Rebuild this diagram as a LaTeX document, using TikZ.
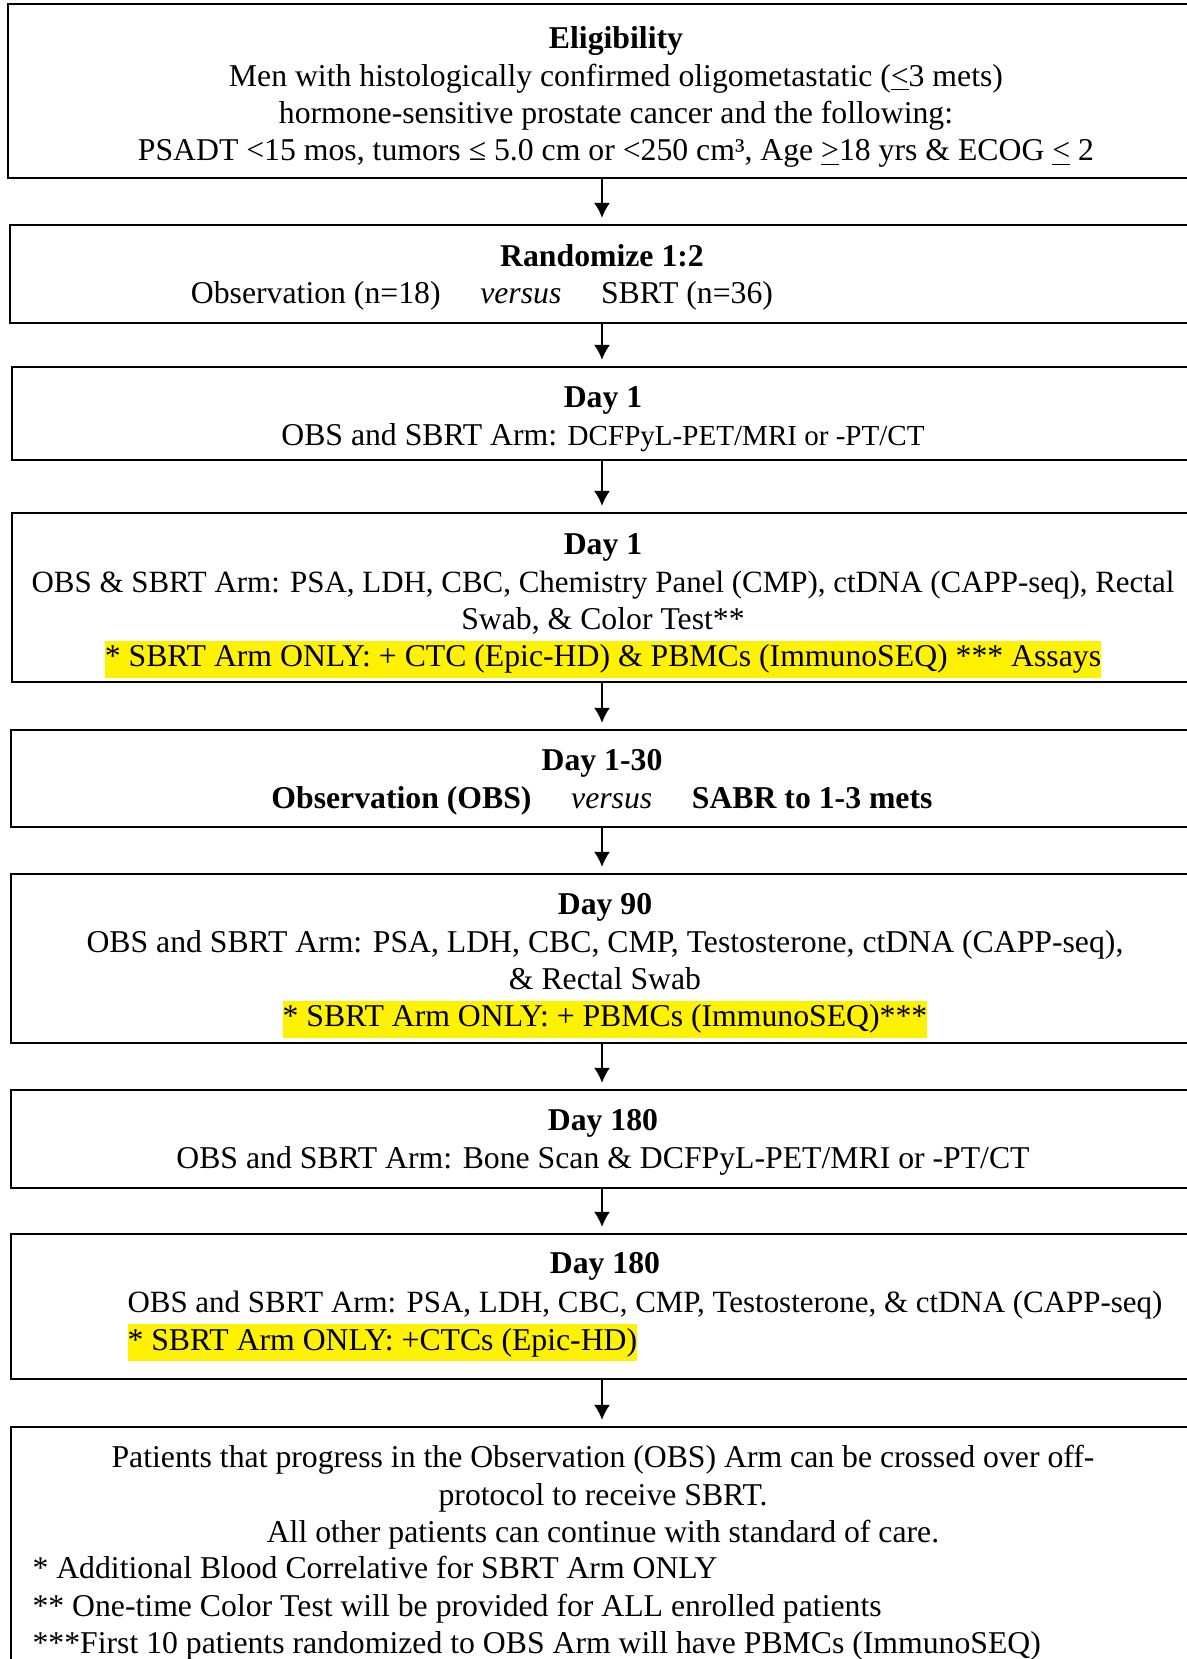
\documentclass[tikz,border=0pt]{standalone}
\usepackage{fontspec}
\setmainfont{Liberation Serif}
\usepackage{xcolor}
\usetikzlibrary{arrows.meta, fit, positioning}
\setlength{\fboxsep}{0pt}
\newcommand{\hl}[1]{\colorbox{yellow}{\strut #1}}
\newcommand{\tight}{\fontsize{11.6}{14}\selectfont}

\begin{document}
\begin{tikzpicture}[x=0.375pt, y=-0.375pt,
    stage/.style={draw, line width=0.8pt, inner sep=0pt},
    txt/.style={align=center, inner sep=0pt, font=\fontsize{11.9}{14}\selectfont},
    notes/.style={align=left, inner sep=0pt, font=\fontsize{11.9}{14}\selectfont},
    flow/.style={-{Latex[length=5.6pt,width=6pt]}, line width=0.6pt, shorten >=2.3pt}]
\useasboundingbox (0,0) rectangle (1187,1659);
\clip (0,0) rectangle (1187,1659);

% boxes, their right side runs off the page
\node[stage, fit={(8,4) (1300,178)}] (elig) {};
\node[stage, fit={(10,225) (1300,323)}] (rand) {};
\node[stage, fit={(12,367) (1300,460)}] (pet1) {};
\node[stage, fit={(12,513) (1300,682)}] (labs1) {};
\node[stage, fit={(11,730) (1300,827)}] (treat) {};
\node[stage, fit={(11,874) (1300,1043)}] (labs90) {};
\node[stage, fit={(11,1090) (1300,1188)}] (pet180) {};
\node[stage, fit={(11,1234) (1300,1379)}] (labs180) {};
\node[stage, fit={(11,1427) (1300,1750)}] (after) {};

% texts
\node[txt, anchor=north] (eligtxt) at (616,22) {\strut\textbf{Eligibility}\\
    Men with histologically confirmed oligometastatic (\underline{<}3 mets)\\
    hormone-sensitive prostate cancer and the following:\\
    PSADT <15 mos, tumors ≤ 5.0 cm or <250 cm³, Age \underline{>}18 yrs \& ECOG \underline{<} 2};
\node[txt, anchor=north] (randtitle) at (602,240) {\strut\textbf{Randomize 1:2}};
\node[txt, anchor=north] (randarms) at (482,277) {\strut Observation (n=18)\quad\ \emph{versus}\quad\ SBRT (n=36)};
\node[txt, anchor=north] (pet1txt) at (603,381) {\strut\textbf{Day 1}\\
    OBS and SBRT Arm: {\fontsize{10.9}{14}\selectfont DCFPyL-PET/MRI or -PT/CT}};
\node[txt, anchor=north] (labs1txt) at (603,528) {\strut\textbf{Day 1}\\
    {\tight OBS \& SBRT Arm: PSA, LDH, CBC, Chemistry Panel (CMP), ctDNA (CAPP-seq), Rectal}\\
    Swab, \& Color Test**\\
    \hl{* SBRT Arm ONLY: + CTC (Epic-HD) \& PBMCs (ImmunoSEQ) *** Assays}};
\node[txt, anchor=north] (treattxt) at (602,744) {\strut\textbf{Day 1-30}\\
    \textbf{Observation (OBS)}\quad\ \emph{versus}\quad\ \textbf{SABR to 1-3 mets}};
\node[txt, anchor=north] (labs90txt) at (605,888) {\strut\textbf{Day 90}\\
    OBS and SBRT Arm: PSA, LDH, CBC, CMP, Testosterone, ctDNA (CAPP-seq),\\
    \& Rectal Swab\\
    \hl{* SBRT Arm ONLY: + PBMCs (ImmunoSEQ)***}};
\node[txt, anchor=north] (pet180txt) at (603,1104) {\strut\textbf{Day 180}\\
    OBS and SBRT Arm: Bone Scan \& DCFPyL-PET/MRI or -PT/CT};
\node[txt, anchor=north] (labs180title) at (605,1247) {\strut\textbf{Day 180}};
\node[notes, anchor=north west] (labs180txt) at (127,1286) {\strut{\tight OBS and SBRT Arm: PSA, LDH, CBC, CMP, Testosterone, \& ctDNA (CAPP-seq)}\\
    \hl{* SBRT Arm ONLY: +CTCs (Epic-HD)}};
\node[txt, anchor=north] (aftertxt) at (603,1441) {\strut Patients that progress in the Observation (OBS) Arm can be crossed over off-\\
    protocol to receive SBRT.\\
    All other patients can continue with standard of care.};
\node[notes, anchor=north west] (footnotes) at (32,1552) {\strut * Additional Blood Correlative for SBRT Arm ONLY\\
    ** One-time Color Test will be provided for ALL enrolled patients\\
    ***First 10 patients randomized to OBS Arm will have PBMCs (ImmunoSEQ)};

% arrows
\coordinate (ax) at (602,0);
\draw[flow] (elig.south -| ax) -- (rand.north -| ax);
\draw[flow] (rand.south -| ax) -- (pet1.north -| ax);
\draw[flow] (pet1.south -| ax) -- (labs1.north -| ax);
\draw[flow] (labs1.south -| ax) -- (treat.north -| ax);
\draw[flow] (treat.south -| ax) -- (labs90.north -| ax);
\draw[flow] (labs90.south -| ax) -- (pet180.north -| ax);
\draw[flow] (pet180.south -| ax) -- (labs180.north -| ax);
\draw[flow] (labs180.south -| ax) -- (after.north -| ax);
\end{tikzpicture}
\end{document}
